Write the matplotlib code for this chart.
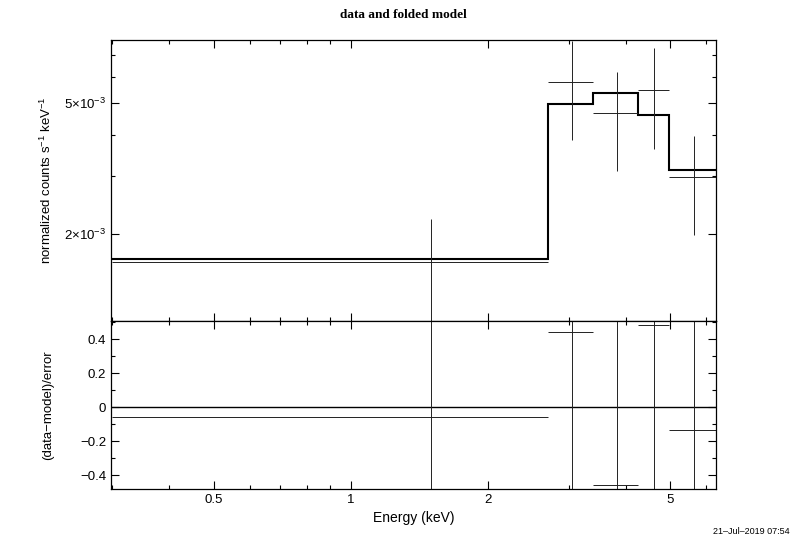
import matplotlib
matplotlib.use("Agg")
import matplotlib.pyplot as plt
from matplotlib.ticker import FixedLocator, NullFormatter, FixedFormatter, MultipleLocator, FuncFormatter

plt.rcParams["font.family"] = ["Liberation Sans", "DejaVu Sans"]
plt.rcParams["mathtext.default"] = "regular"

# channel bins (keV) and values
bin_edges = [0.3, 2.7, 3.4, 4.26, 4.98, 6.31]
data_rate = [1.64e-3, 5.79e-3, 4.66e-3, 5.48e-3, 2.98e-3]
data_err = [0.58e-3, 1.93e-3, 1.56e-3, 1.85e-3, 1.0e-3]
model_rate = [1.68e-3, 4.97e-3, 5.36e-3, 4.60e-3, 3.13e-3]
residual = [-0.06, 0.44, -0.46, 0.48, -0.135]
residual_err = [1.0, 1.0, 1.0, 1.0, 1.0]

x_major = [0.5, 1, 2, 5]
x_major_labels = ["0.5", "1", "2", "5"]
x_minor = [0.3, 0.4, 0.6, 0.7, 0.8, 0.9, 3, 4, 6]
y_major = [2e-3, 5e-3]
y_major_labels = ["2×10$^{-3}$", "5×10$^{-3}$"]
y_minor = [1e-3, 3e-3, 4e-3, 6e-3, 7e-3]

lo = bin_edges[:-1]
hi = bin_edges[1:]
centers = [(a + b) / 2 for a, b in zip(lo, hi)]
xerr = [[c - a for c, a in zip(centers, lo)], [b - c for c, b in zip(centers, hi)]]

W, H = 811, 542
fig = plt.figure(figsize=(W / 100, H / 100), dpi=100)
L, R = 111 / W, 716 / W
ax1 = fig.add_axes([L, 1 - 321 / H, R - L, (321 - 40) / H])
ax2 = fig.add_axes([L, 1 - 489 / H, R - L, (489 - 321) / H])

for ax in (ax1, ax2):
    ax.set_xscale("log")
    ax.set_xlim(0.298, 6.31)
    ax.xaxis.set_major_locator(FixedLocator(x_major))
    ax.xaxis.set_minor_locator(FixedLocator(x_minor))
    ax.xaxis.set_minor_formatter(NullFormatter())
    ax.tick_params(which="both", direction="in", top=True, right=True,
                   width=0.8, labelsize=9.5, colors="black")
    ax.tick_params(which="major", length=6)
    ax.tick_params(which="minor", length=3)
    for s in ax.spines.values():
        s.set_linewidth(0.9)

# top panel: data and folded model
ax1.errorbar(centers, data_rate, xerr=xerr, yerr=data_err, fmt="none",
             ecolor="#222222", elinewidth=0.7, capsize=0)
ax1.stairs(model_rate, bin_edges, baseline=None, color="black", linewidth=1.5)
ax1.set_yscale("log")
ax1.set_ylim(1.088e-3, 7.77e-3)
ax1.yaxis.set_major_locator(FixedLocator(y_major))
ax1.yaxis.set_major_formatter(FixedFormatter(y_major_labels))
ax1.yaxis.set_minor_locator(FixedLocator(y_minor))
ax1.yaxis.set_minor_formatter(NullFormatter())
ax1.set_xticklabels([])
ax1.set_ylabel("normalized counts s$^{-1}$ keV$^{-1}$", fontsize=9.5)
ax1.yaxis.set_label_coords(-0.094, 0.5)

# bottom panel: residuals
ax2.axhline(0, color="black", linewidth=1.0)
ax2.errorbar(centers, residual, xerr=xerr, yerr=residual_err, fmt="none",
             ecolor="#222222", elinewidth=0.7, capsize=0)
ax2.set_ylim(-0.482, 0.506)
ax2.yaxis.set_major_locator(MultipleLocator(0.2))
ax2.yaxis.set_minor_locator(MultipleLocator(0.1))
ax2.yaxis.set_major_formatter(FuncFormatter(
    lambda v, p: "0" if abs(v) < 1e-9 else f"{v:.1f}".replace("-", "\u2212")))
ax2.xaxis.set_major_formatter(FixedFormatter(x_major_labels))
ax2.set_xlabel("Energy (keV)", fontsize=10, labelpad=4)
ax2.set_ylabel("(data\u2212model)/error", fontsize=9.5)
ax2.yaxis.set_label_coords(-0.094, 0.5)

fig.text(403 / W, 1 - 15 / H, "data and folded model", fontsize=9.5,
         family="Liberation Serif", fontweight="bold", ha="center", va="center")
fig.text(790 / W, 1 - 532 / H, "21\u2013Jul\u20132019 07:54", fontsize=6.5,
         ha="right", va="center")

fig.savefig("out.png", dpi=100)
